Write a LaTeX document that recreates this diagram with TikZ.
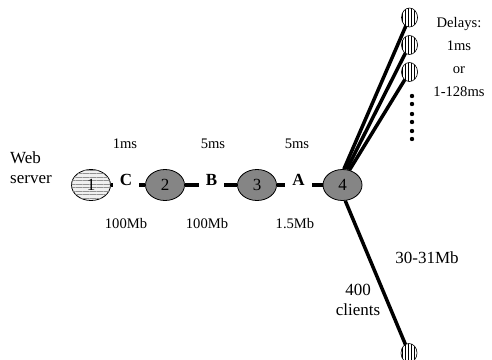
\documentclass[tikz,border=0pt]{standalone}
\usepackage{fontspec}
\setmainfont{Liberation Serif}
\usetikzlibrary{shapes.geometric,patterns.meta,backgrounds}
\definecolor{routergray}{RGB}{133,133,133}
\definecolor{serverfill}{RGB}{240,240,240}
\definecolor{stripegray}{RGB}{145,145,145}
\newcommand\lblbig{\fontsize{17}{20}\selectfont}
\newcommand\lblsmall{\fontsize{14.6}{23}\selectfont}
\begin{document}
\begin{tikzpicture}[x=1pt,y=-1pt,
  router/.style={ellipse, draw, line width=0.8pt, fill=routergray,
    minimum width=39pt, minimum height=31pt, inner sep=0pt, font=\lblbig},
  server/.style={router, fill=serverfill,
    postaction={pattern={Lines[angle=0,distance=3.5pt,line width=0.7pt]},
      pattern color=stripegray}},
  client/.style={ellipse, draw, line width=0.6pt, fill=white,
    postaction={pattern={Lines[angle=90,distance=3pt,line width=0.8pt]}},
    minimum width=16pt, minimum height=19pt, inner sep=0pt},
  link/.style={line width=4pt},
  access/.style={line width=3.5pt},
  linkname/.style={font=\lblbig\bfseries, fill=white, inner xsep=7pt,
    inner ysep=3pt, anchor=base},
  smalllbl/.style={font=\lblsmall, anchor=base, inner sep=0pt},
  biglbl/.style={font=\lblbig, inner sep=0pt}]
\useasboundingbox (0,0) rectangle (492,359);

% routers along the bottleneck path
\node[server] (n1) at (91,185) {1};
\node[router] (n2) at (165,185) {2};
\node[router] (n3) at (257,185) {3};
\node[router] (n4) at (342.5,185) {4};

% client hosts
\node[client] (c1) at (409.5,17.5) {};
\node[client] (c2) at (409.5,45) {};
\node[client] (c3) at (409.5,72) {};
\node[client] (c4) at (409,353) {};

% links, kept behind the nodes
\begin{scope}[on background layer]
  \draw[link] (n1) -- (n2);
  \draw[link] (n2) -- (n3);
  \draw[link] (n3) -- (n4);
  \draw[access] (n4.85) -- (c1.center);
  \draw[access] (n4.75) -- (c2.center);
  \draw[access] (n4.65) -- (c3.center);
  \draw[access] (n4.-80) -- (c4.center);
\end{scope}

% link names
\node[linkname] (lc) at (126,185) {C};
\node[linkname] (lb) at (211.5,185) {B};
\node[linkname] (la) at (298.5,185) {A};

% delays and bandwidths
\node[smalllbl] (d1) at (125,148) {1ms};
\node[smalllbl] (d2) at (213,148) {5ms};
\node[smalllbl] (d3) at (297,148) {5ms};
\node[smalllbl] (b1) at (126,228) {100Mb};
\node[smalllbl] (b2) at (207,228) {100Mb};
\node[smalllbl] (b3) at (295,228) {1.5Mb};

% side notes
\node[biglbl, anchor=north west, align=left] (web) at (10,151.5) {Web\\server};
\node[font=\lblsmall, inner sep=0pt, anchor=north, align=center] (dl) at (459,17) {Delays:\\1ms\\or\\1-128ms};
\node[biglbl, anchor=base] (bw) at (427,263) {30-31Mb};
\node[biglbl, anchor=north, align=center] (cl) at (358,284) {400\\clients};

% more clients
\foreach \yy in {96,104,114,122,131,139}
  \fill (412,\yy) circle (2.2);
\end{tikzpicture}
\end{document}
